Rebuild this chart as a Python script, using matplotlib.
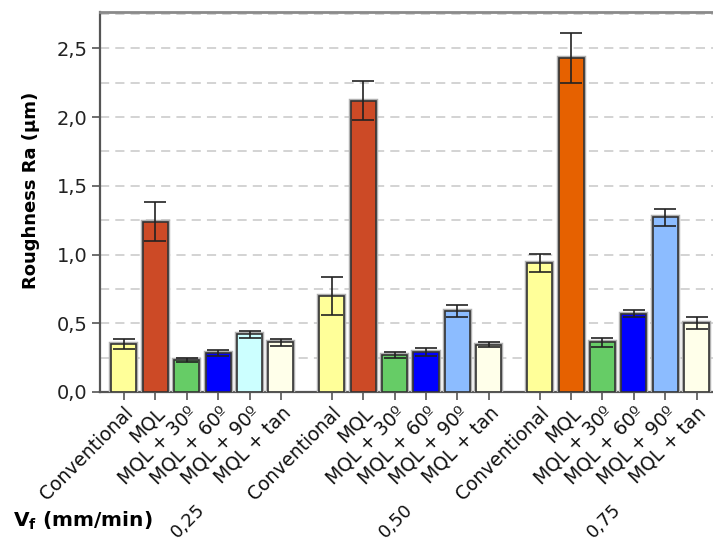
import numpy as np
import matplotlib
matplotlib.use("Agg")
import matplotlib.pyplot as plt
import matplotlib.patheffects as pe
from matplotlib.ticker import MultipleLocator, FuncFormatter

# data
conditions = ['Conventional', 'MQL', 'MQL + 30º', 'MQL + 60º', 'MQL + 90º', 'MQL + tan']
feeds = ['0,25', '0,50', '0,75']
ra_025 = [0.35, 1.24, 0.23, 0.285, 0.42, 0.36]
ra_050 = [0.70, 2.12, 0.27, 0.29, 0.59, 0.345]
ra_075 = [0.94, 2.43, 0.36, 0.57, 1.27, 0.50]
err_025 = [0.035, 0.145, 0.015, 0.022, 0.025, 0.022]
err_050 = [0.14, 0.14, 0.02, 0.028, 0.043, 0.018]
err_075 = [0.065, 0.18, 0.032, 0.027, 0.06, 0.042]

colors_025 = ['#FFFF99', '#CC4A26', '#66CC66', '#0000FF', '#CCFFFF', '#FFFFEA']
colors_050 = ['#FFFF99', '#CC4A26', '#66CC66', '#0000FF', '#8CBCFF', '#FFFFEA']
colors_075 = ['#FFFF99', '#E66100', '#66CC66', '#0000FF', '#8CBCFF', '#FFFFEA']

values = [ra_025, ra_050, ra_075]
errors = [err_025, err_050, err_075]
colors = [colors_025, colors_050, colors_075]

group_step = 6.62

fig = plt.figure(figsize=(7.13, 5.42), dpi=100)
ax = fig.add_axes([0.1403, 0.2768, 0.8597, 0.7011])

shadow = [pe.Stroke(linewidth=3.2, foreground='#b0b0b0'), pe.Normal()]
xs_all = []
for g in range(3):
    xs = g * group_step + np.arange(len(conditions))
    xs_all.extend(xs)
    bars = ax.bar(xs, values[g], width=0.8, color=colors[g], edgecolor='#333333',
                  linewidth=1.2, zorder=3)
    for b in bars:
        b.set_path_effects(shadow)
    ax.errorbar(xs, values[g], yerr=errors[g], fmt='none', ecolor='#222222',
                elinewidth=1.2, capsize=8, capthick=1.2, zorder=4)

ax.set_xlim(-0.76, 18.76)
ax.set_ylim(0, 2.765)

ax.yaxis.set_major_locator(MultipleLocator(0.5))
ax.yaxis.set_minor_locator(MultipleLocator(0.25))
ax.yaxis.set_major_formatter(FuncFormatter(lambda v, p: ('%.1f' % v).replace('.', ',')))
ax.grid(axis='y', which='both', color='#c8c8c8', linestyle=(0, (6, 4)), linewidth=1.1, zorder=0)
ax.tick_params(axis='y', which='minor', length=0)
ax.tick_params(axis='y', which='major', length=6, width=1.2, color='#555555',
               labelsize=14, labelcolor='#222222', pad=3)

ax.set_xticks(xs_all)
ax.set_xticklabels(conditions * 3, rotation=45, ha='right', rotation_mode='anchor',
                   fontsize=13.5, color='#111111')
ax.tick_params(axis='x', length=6, width=1.2, color='#555555', pad=2)

for s in ['left', 'bottom']:
    ax.spines[s].set_color('#555555')
    ax.spines[s].set_linewidth(1.6)
ax.spines['top'].set_color('#8a8a8a')
ax.spines['top'].set_linewidth(2)
ax.spines['right'].set_visible(False)

ax.set_ylabel('Roughness Ra (µm)', fontsize=13, fontweight='bold')
ax.yaxis.set_label_coords(-0.098, 0.53)

for g in range(3):
    xc = g * group_step + 2.5 - 0.45
    ax.text(xc, -0.34, feeds[g], transform=ax.get_xaxis_transform(), rotation=45,
            ha='center', va='center', fontsize=13, color='#111111')

fig.text(0.018, 0.039, r'$\mathbf{V_f}$ (mm/min)', fontsize=14.5, fontweight='bold',
         va='center')

fig.savefig('out.png', dpi=100)
